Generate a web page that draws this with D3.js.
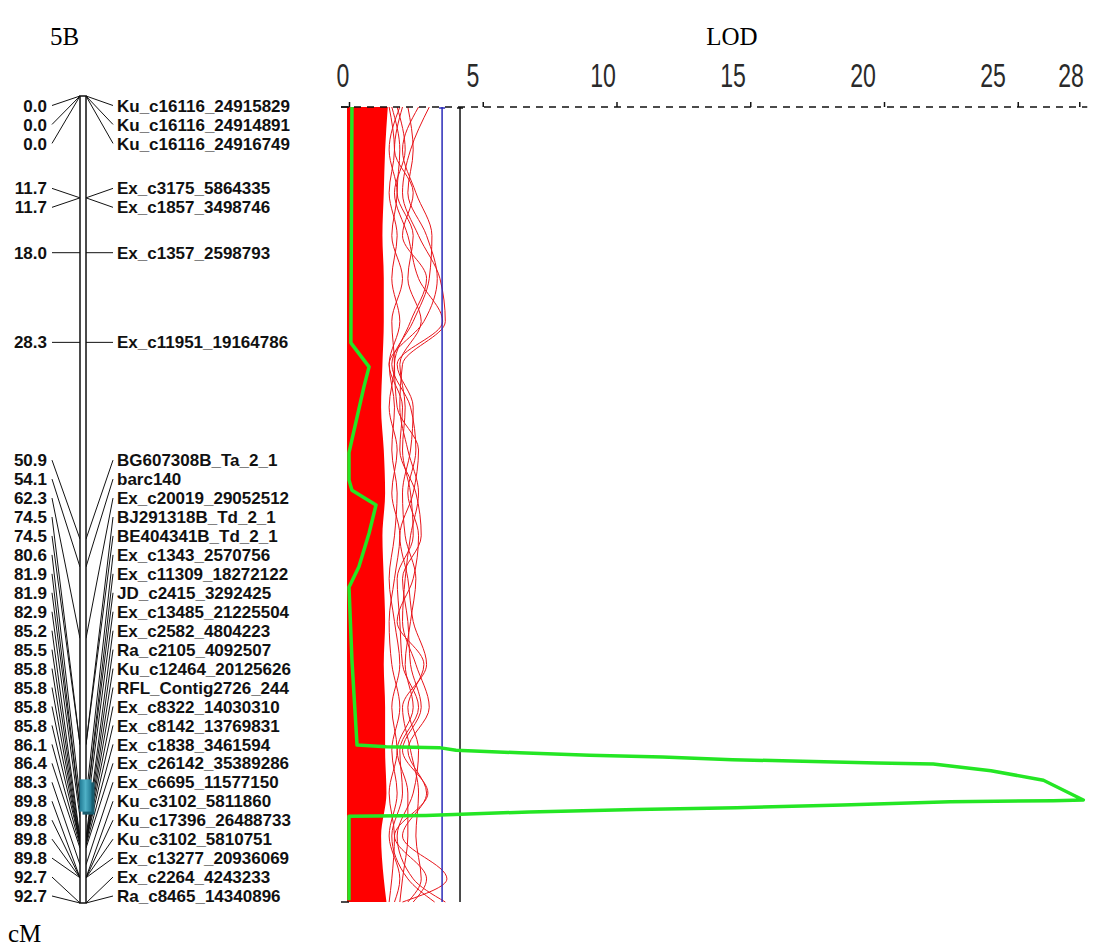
<!DOCTYPE html>
<html>
<head>
<meta charset="utf-8">
<script src="https://cdn.jsdelivr.net/npm/d3@7"></script>
<style>
  body { margin: 0; background: #fff; }
  svg { display: block; }
</style>
</head>
<body>
<svg id="chart" width="1093" height="950"></svg>
<script>
// marker map for chromosome 5B (cM positions, top to bottom)
const markerCM = [0.0, 0.0, 0.0, 11.7, 11.7, 18.0, 28.3, 50.9, 54.1, 62.3, 74.5, 74.5, 80.6, 81.9, 81.9,
    82.9, 85.2, 85.5, 85.8, 85.8, 85.8, 85.8, 86.1, 86.4, 88.3, 89.8, 89.8, 89.8, 89.8, 92.7, 92.7];
const markerNames = ['Ku_c16116_24915829', 'Ku_c16116_24914891', 'Ku_c16116_24916749', 'Ex_c3175_5864335',
    'Ex_c1857_3498746', 'Ex_c1357_2598793', 'Ex_c11951_19164786', 'BG607308B_Ta_2_1', 'barc140',
    'Ex_c20019_29052512', 'BJ291318B_Td_2_1', 'BE404341B_Td_2_1', 'Ex_c1343_2570756', 'Ex_c11309_18272122',
    'JD_c2415_3292425', 'Ex_c13485_21225504', 'Ex_c2582_4804223', 'Ra_c2105_4092507', 'Ku_c12464_20125626',
    'RFL_Contig2726_244', 'Ex_c8322_14030310', 'Ex_c8142_13769831', 'Ex_c1838_3461594', 'Ex_c26142_35389286',
    'Ex_c6695_11577150', 'Ku_c3102_5811860', 'Ku_c17396_26488733', 'Ku_c3102_5810751', 'Ex_c13277_20936069',
    'Ex_c2264_4243233', 'Ra_c8465_14340896'];

// QTL confidence interval (cM)
const qtlInterval = [78.5, 82.2];

// LOD profile: position (cM) and LOD
const profileCM = [0, 27.5, 30.3, 32.6, 40.3, 43.5, 44.7, 46.4, 49.7, 53.6, 56.0, 64.5, 72.3, 74.4, 74.6, 74.7,
    75.0, 75.3, 75.6, 75.8, 76.1, 76.3, 76.5, 76.6, 77.4, 78.5, 80.8, 80.9, 81.0, 81.4, 81.7, 81.9, 82.2, 82.6, 82.7,
    88.6, 92.5];
const profileLOD = [0.11, 0.07, 0.75, 0.56, 0, 0, 0.11, 1.01, 0.75, 0.37, 0, 0.11, 0.26, 0.30, 1.39, 3.37,
    4.0, 6.37, 8.99, 11.72, 14.34, 16.97, 19.74, 21.84, 24.0, 25.96, 27.45, 26.33, 22.47, 18.46, 14.49, 10.75, 6.74,
    2.88, 0, 0, 0];

// permutation curves, sampled on a common cM grid
const permCM = [0, 5, 10, 15, 20, 25, 30, 35, 40, 45, 50, 55, 60, 65, 70, 75, 80, 85, 90, 92.7];
const permDense = [1.45, 1.35, 1.3, 1.25, 1.3, 1.3, 1.25, 1.2, 1.3, 1.35, 1.25, 1.3, 1.35, 1.3, 1.35, 1.35, 1.4, 1.2, 1.3, 1.4];
const permCurves = [
    [3.0, 2.3, 2.0, 2.6, 3.4, 3.6, 2.0, 1.9, 2.2, 2.6, 2.3, 2.1, 2.0, 2.5, 3.0, 2.2, 2.9, 2.0, 3.66, 2.0],
    [2.6, 2.0, 2.5, 3.1, 3.0, 2.4, 1.6, 2.3, 2.5, 2.2, 2.6, 2.4, 1.8, 2.8, 2.2, 2.6, 2.4, 1.8, 2.4, 3.6],
    [2.2, 2.4, 2.2, 2.9, 3.3, 2.8, 1.5, 2.0, 1.9, 2.5, 2.7, 2.0, 2.2, 2.3, 2.7, 2.0, 2.95, 1.7, 2.9, 2.4],
    [1.8, 2.1, 1.7, 2.2, 2.6, 3.5, 1.8, 2.4, 2.3, 2.0, 2.1, 2.5, 2.3, 2.1, 2.4, 1.8, 2.2, 2.2, 2.0, 1.9],
    [2.0, 1.7, 2.4, 2.0, 2.9, 2.3, 1.7, 1.8, 2.6, 2.4, 1.9, 2.2, 2.4, 2.9, 2.0, 2.3, 2.6, 2.5, 2.7, 2.2],
    [1.6, 1.9, 1.8, 2.4, 2.2, 2.7, 1.9, 2.1, 2.0, 2.3, 2.4, 1.8, 1.9, 2.0, 2.6, 1.9, 2.0, 1.6, 2.2, 3.2],
    [1.5, 1.7, 1.5, 1.8, 1.6, 1.9, 1.5, 1.7, 1.6, 1.8, 1.7, 1.5, 1.7, 1.9, 1.6, 1.8, 1.5, 1.7, 1.6, 1.5],
    [1.9, 1.5, 1.8, 1.6, 2.0, 1.6, 1.7, 1.5, 1.8, 1.6, 1.9, 1.7, 1.5, 1.6, 1.9, 1.6, 1.8, 1.5, 1.9, 1.7]
];

// significance thresholds (LOD)
const thresholds = [{ value: 3.48, colour: '#2a2ab8' }, { value: 4.15, colour: '#111' }];

// LOD axis ticks
const lodTickValues = [0, 5, 10, 15, 20, 25, 27.3];
const lodTickLabels = [0, 5, 10, 15, 20, 25, 28];

const svg = d3.select('#chart');

// scales
const yChrom = d3.scaleLinear().domain([0, 92.7]).range([96, 903]);
const yLod = d3.scaleLinear().domain([0, 92.7]).range([107, 902]);
const x = d3.scaleLinear().domain([0, 27.3]).range([349, 349 + 27.3 * 26.75]);
// the tick labels are printed on a slightly tighter spacing than the ticks
const xLabel = d3.scaleLinear().domain([0, 28]).range([343, 1071]);

// titles
const serif = '"Liberation Serif", "Times New Roman", serif';
svg.append('text').attr('x', 50).attr('y', 45).attr('font-family', serif).attr('font-size', 25).text('5B');
svg.append('text').attr('x', 732).attr('y', 45).attr('text-anchor', 'middle').attr('font-family', serif).attr('font-size', 25).text('LOD');
svg.append('text').attr('x', 8).attr('y', 942).attr('font-family', serif).attr('font-size', 25).text('cM');

// ---- chromosome ----
// spread labels so they don't overlap, keeping each cluster centred on its markers
function layoutLabels (ideal, gap, lo, hi) {
    const clusters = [];
    ideal.forEach((y) => {
        clusters.push({ n: 1, sum: y });
        while (true) {
            const c = clusters[clusters.length - 1];
            c.top = Math.max(lo, Math.min(hi - (c.n - 1) * gap, c.sum / c.n - (c.n - 1) * gap / 2));
            const p = clusters[clusters.length - 2];
            if (p && p.top + p.n * gap > c.top) {
                p.n += c.n;
                p.sum += c.sum;
                clusters.pop();
            } else break;
        }
    });
    const out = [];
    clusters.forEach(c => { for (let k = 0; k < c.n; k++) out.push(c.top + k * gap); });
    return out;
}
const labelY = layoutLabels(markerCM.map(d => yChrom(d)), 18.95, 105.5, 896);

const chrom = svg.append('g');
const barL = 80;
const barR = 86;

chrom.selectAll('line.left')
    .data(markerCM)
    .enter().append('line')
    .attr('x1', 52).attr('y1', (d, i) => labelY[i])
    .attr('x2', barL).attr('y2', d => yChrom(d))
    .attr('stroke', '#111').attr('stroke-width', 1);

chrom.selectAll('line.right')
    .data(markerCM)
    .enter().append('line')
    .attr('x1', 113).attr('y1', (d, i) => labelY[i])
    .attr('x2', barR).attr('y2', d => yChrom(d))
    .attr('stroke', '#111').attr('stroke-width', 1);

chrom.append('rect')
    .attr('x', barL).attr('y', yChrom(0))
    .attr('width', barR - barL).attr('height', yChrom(92.7) - yChrom(0))
    .attr('fill', '#fff').attr('stroke', '#111').attr('stroke-width', 1.5);

// QTL interval box
const grad = svg.append('defs').append('linearGradient').attr('id', 'qtlGrad');
grad.append('stop').attr('offset', '0%').attr('stop-color', '#1f7892');
grad.append('stop').attr('offset', '50%').attr('stop-color', '#4fb0c6');
grad.append('stop').attr('offset', '100%').attr('stop-color', '#1f7892');
chrom.append('rect')
    .attr('x', barL + 2.5).attr('y', yChrom(qtlInterval[0]) + 3)
    .attr('width', 12).attr('height', yChrom(qtlInterval[1]) - yChrom(qtlInterval[0]))
    .attr('fill', '#185c6e');
chrom.append('rect')
    .attr('x', barL - 0.5).attr('y', yChrom(qtlInterval[0]))
    .attr('width', 12).attr('height', yChrom(qtlInterval[1]) - yChrom(qtlInterval[0]))
    .attr('fill', 'url(#qtlGrad)');

const labelFont = '"Liberation Sans", Arial, sans-serif';
chrom.selectAll('text.cm')
    .data(markerCM)
    .enter().append('text')
    .attr('x', 47).attr('y', (d, i) => labelY[i]).attr('dy', '0.36em')
    .attr('text-anchor', 'end')
    .attr('font-family', labelFont).attr('font-weight', 'bold').attr('font-size', 17)
    .attr('fill', '#111')
    .text(d => d.toFixed(1));

chrom.selectAll('text.name')
    .data(markerNames)
    .enter().append('text')
    .attr('x', 117).attr('y', (d, i) => labelY[i]).attr('dy', '0.36em')
    .attr('font-family', labelFont).attr('font-weight', 'bold').attr('font-size', 17)
    .attr('fill', '#111')
    .text(d => d);

// ---- LOD panel ----
const lod = svg.append('g');

// dense block of permutation curves
const area = d3.area()
    .y((d, i) => yLod(permCM[i]))
    .x0(x(0) - 2)
    .x1(d => x(d))
    .curve(d3.curveMonotoneY);
lod.append('path').datum(permDense).attr('d', area).attr('fill', '#ff0000');

const permLine = d3.line()
    .y((d, i) => yLod(permCM[i]))
    .x(d => x(d))
    .curve(d3.curveMonotoneY);
lod.selectAll('path.perm')
    .data(permCurves)
    .enter().append('path')
    .attr('d', permLine)
    .attr('fill', 'none').attr('stroke', '#e8141a').attr('stroke-width', 1);

// threshold lines
thresholds.forEach(t => {
    lod.append('line')
        .attr('x1', x(t.value)).attr('x2', x(t.value))
        .attr('y1', yLod(0)).attr('y2', yLod(92.7))
        .attr('stroke', t.colour).attr('stroke-width', 1.5);
    lod.append('line')
        .attr('x1', x(t.value) - 3).attr('x2', x(t.value) + 3)
        .attr('y1', yLod(0) + 1).attr('y2', yLod(0) + 1)
        .attr('stroke', t.colour).attr('stroke-width', 1.5);
});

// LOD profile
const profile = profileCM.map((c, i) => ({ cM: c, lod: profileLOD[i] }));
lod.append('path')
    .datum(profile)
    .attr('d', d3.line().x(d => x(d.lod)).y(d => yLod(d.cM)))
    .attr('fill', 'none').attr('stroke', '#24e624').attr('stroke-width', 3.5)
    .attr('stroke-linejoin', 'round');

// end marks on the position axis
[0, 92.7].forEach(c => {
    lod.append('line')
        .attr('x1', x(0) - 8).attr('x2', x(0))
        .attr('y1', yLod(c)).attr('y2', yLod(c))
        .attr('stroke', '#111').attr('stroke-width', 1.5);
});

// dashed LOD axis on top
lod.append('line')
    .attr('x1', x(0) - 8).attr('x2', x(27.3) + 8)
    .attr('y1', yLod(0)).attr('y2', yLod(0))
    .attr('stroke', '#111').attr('stroke-width', 1.5).attr('stroke-dasharray', '7,6');

const axis = lod.append('g')
    .attr('transform', `translate(0,${yLod(0)})`)
    .call(d3.axisTop(x)
        .tickValues(lodTickValues)
        .tickFormat('')
        .tickSizeInner(5)
        .tickSizeOuter(0));
axis.select('.domain').remove();
axis.selectAll('.tick line').attr('stroke', '#111').attr('stroke-width', 1.5);

// tick labels: tall, condensed digits
lod.selectAll('text.tick-label')
    .data(lodTickLabels)
    .enter().append('text')
    .attr('transform', d => `translate(${xLabel(d)},87) scale(0.7,1)`)
    .attr('text-anchor', 'middle')
    .attr('font-family', '"Liberation Sans", Arial, sans-serif')
    .attr('font-size', 33)
    .attr('fill', '#2a2a2a')
    .text(d => d);
</script>
</body>
</html>
